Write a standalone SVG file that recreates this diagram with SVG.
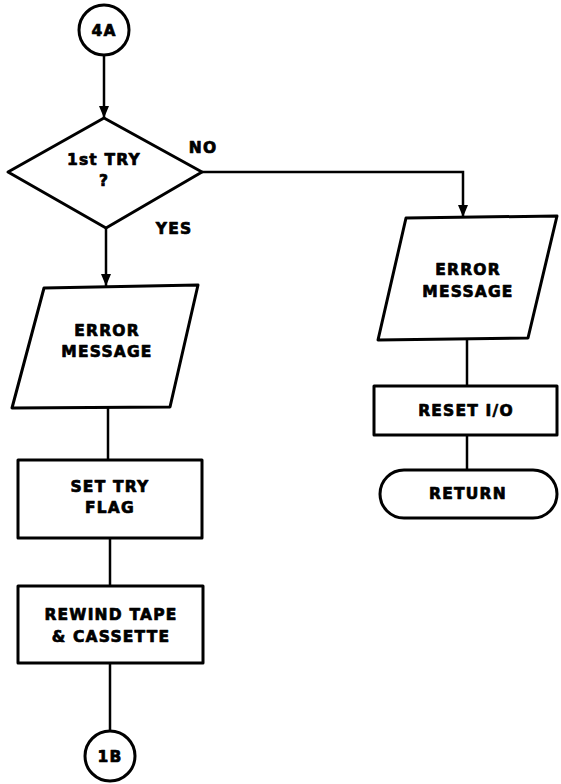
<svg xmlns="http://www.w3.org/2000/svg" width="561" height="784" viewBox="0 0 561 784">
<defs>
<marker id="arr" viewBox="0 0 12 10" refX="12" refY="5" markerWidth="12" markerHeight="10" orient="auto" markerUnits="userSpaceOnUse">
<path d="M0,0 L12,5 L0,10 z" fill="#000"/>
</marker>
<style>
.s{fill:#fff;stroke:#000;stroke-width:3;stroke-linejoin:round}
.c{fill:none;stroke:#000;stroke-width:2.5}
text{font-family:"DejaVu Sans","Liberation Sans",sans-serif;font-weight:bold;font-size:15.5px;text-anchor:middle;letter-spacing:1.2px;fill:#000;stroke:#000;stroke-width:0.7px;stroke-linejoin:round}
</style>
</defs>
<rect width="561" height="784" fill="#fff"/>
<g id="connectors">
<path class="c" d="M104,55 L104,118" marker-end="url(#arr)"/>
<path class="c" d="M106,228 L106,286" marker-end="url(#arr)"/>
<path class="c" d="M202,172 L463,172 L463,217" marker-end="url(#arr)"/>
<path class="c" d="M108,408 L108,460"/>
<path class="c" d="M110,538 L110,586"/>
<path class="c" d="M110,663 L110,731"/>
<path class="c" d="M467,340 L467,386"/>
<path class="c" d="M467,435 L467,470"/>
</g>
<g id="n4A">
<circle class="s" cx="104" cy="30" r="25"/>
<text x="104" y="35.5">4A</text>
</g>
<g id="decision">
<polygon class="s" points="104,118 202,172 106,228 8,172"/>
<text x="104" y="165">1st TRY</text>
<text x="104" y="186">?</text>
</g>
<g id="labelNo"><text x="203" y="153">NO</text></g>
<g id="labelYes"><text x="174" y="234">YES</text></g>
<g id="errorLeft">
<polygon class="s" points="44,288 198,285 170,407 12,408"/>
<text x="107" y="336">ERROR</text>
<text x="107" y="357">MESSAGE</text>
</g>
<g id="setTry">
<rect class="s" x="18" y="460" width="184" height="78"/>
<text x="110" y="492">SET TRY</text>
<text x="110" y="513">FLAG</text>
</g>
<g id="rewind">
<rect class="s" x="18" y="586" width="185" height="77"/>
<text x="111" y="620">REWIND TAPE</text>
<text x="111" y="642">&amp; CASSETTE</text>
</g>
<g id="n1B">
<circle class="s" cx="110" cy="756" r="25"/>
<text x="110" y="761.5">1B</text>
</g>
<g id="errorRight">
<polygon class="s" points="406,218 557,216 528,338 378,340"/>
<text x="468" y="275">ERROR</text>
<text x="468" y="297">MESSAGE</text>
</g>
<g id="resetIO">
<rect class="s" x="374" y="386" width="183" height="49"/>
<text x="466" y="416">RESET I/O</text>
</g>
<g id="return">
<rect class="s" x="380" y="470" width="177" height="48" rx="24"/>
<text x="468" y="499">RETURN</text>
</g>
</svg>
